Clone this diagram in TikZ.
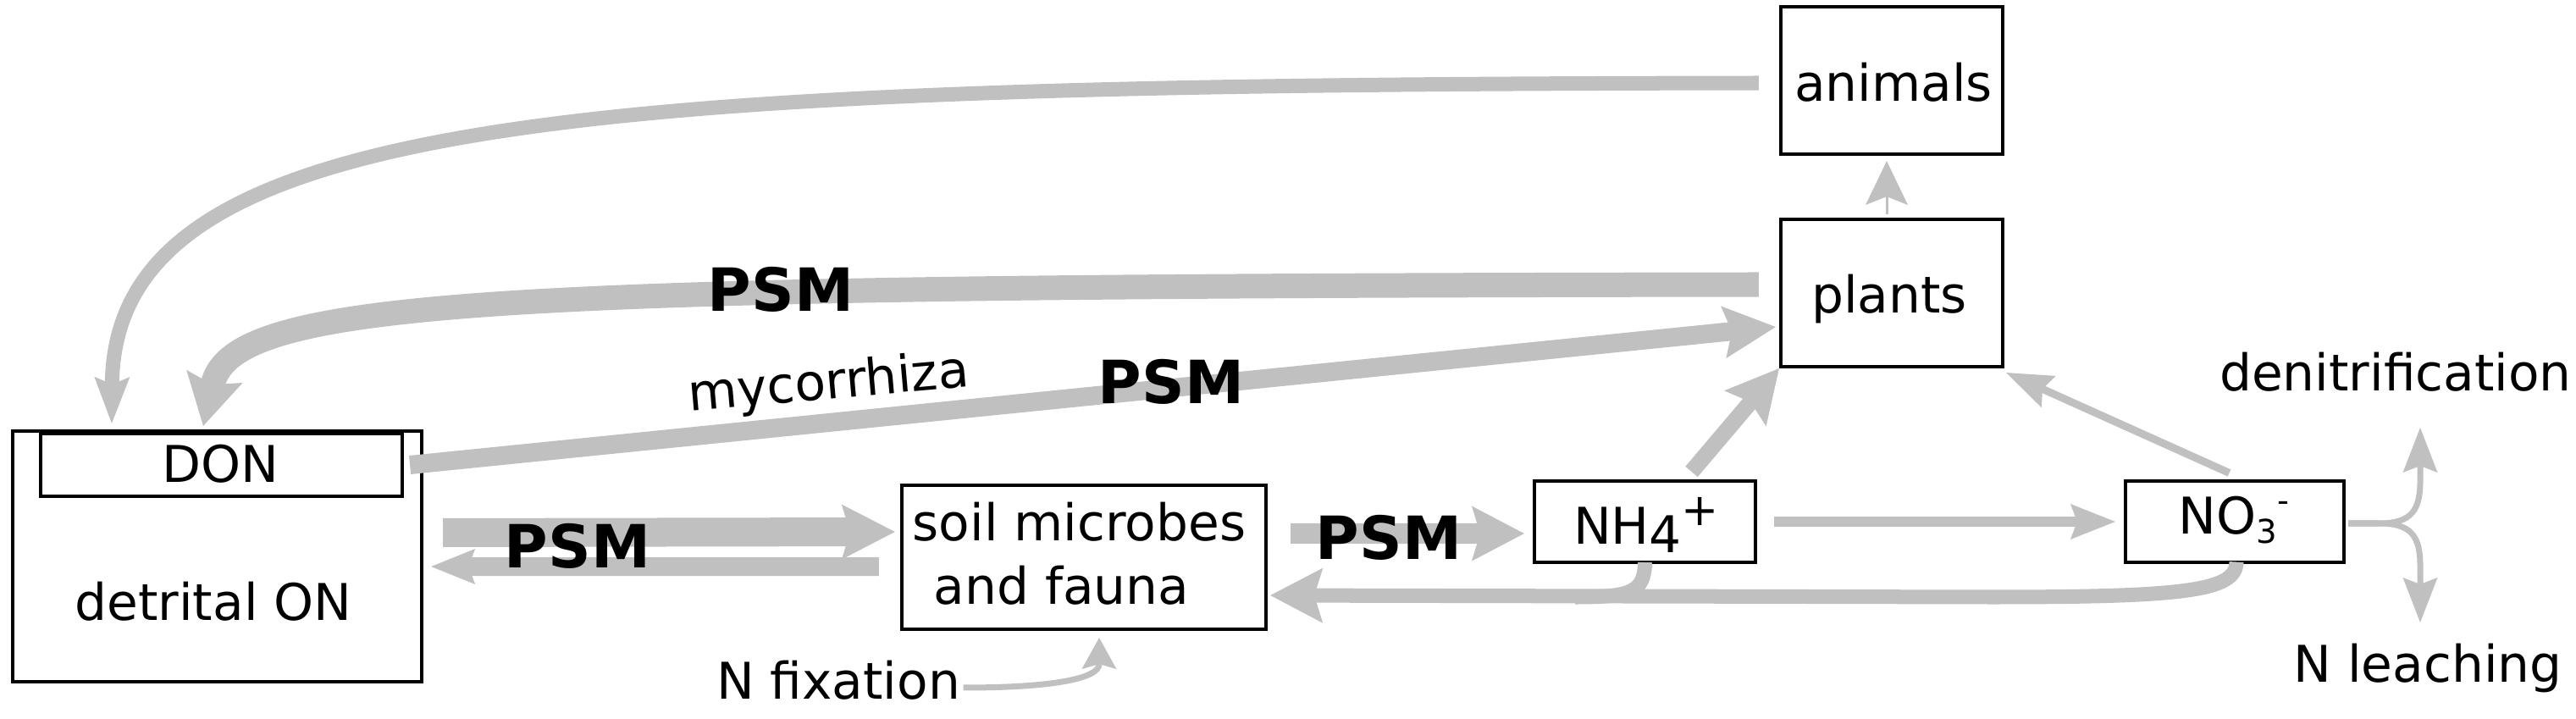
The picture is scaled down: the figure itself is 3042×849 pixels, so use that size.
\documentclass[tikz,border=0pt]{standalone}
\usepackage{fontspec}
\setmainfont{DejaVu Sans}
\usetikzlibrary{arrows.meta}
\definecolor{flowgray}{RGB}{192,192,192}
\begin{document}
\begin{tikzpicture}[x=0.01cm,y=-0.01cm,
  box/.style={draw=black,line width=0.04cm,inner sep=0pt,outer sep=0pt},
  txt/.style={inner sep=0pt,anchor=base,font=\fontsize{17}{20}\selectfont},
  psm/.style={inner sep=0pt,anchor=base,font=\fontsize{20}{24}\selectfont\bfseries},
  gline/.style={draw=flowgray,line width=#1},
  arr/.style n args={3}{arrows={-Stealth[length=#1,width=#2,inset=#3,line width=0pt]}},
]
\useasboundingbox (0,0) rectangle (3042,849);

% boxes
\node[box,minimum width=4.83cm,minimum height=2.96cm] (det) at (256.5,657) {};
\node[box,minimum width=4.27cm,minimum height=0.74cm] (don) at (261.5,549) {};
\node[box,minimum width=4.30cm,minimum height=1.70cm] (soil) at (1280,658) {};
\node[box,minimum width=2.61cm,minimum height=0.96cm] (nh4) at (1942.5,616) {};
\node[box,minimum width=2.58cm,minimum height=0.95cm] (no3) at (2639,616) {};
\node[box,minimum width=2.62cm,minimum height=1.74cm] (plants) at (2234,346) {};
\node[box,minimum width=2.62cm,minimum height=1.74cm] (animals) at (2234,95) {};

% texts
\node[txt] (animalsT) at (2236,120) {animals};
\node[txt] (plantsT) at (2231,370) {plants};
\node[txt] (donT) at (260,570) {DON};
\node[txt] (detT) at (252,732) {detrital ON};
\node[txt,anchor=base west] (soilT1) at (1077,638) {soil microbes};
\node[txt,anchor=base west] (soilT2) at (1102,713) {and fauna};
\node[txt] (nh4T) at (1944,642) {NH\raisebox{-0.18em}{4}\raisebox{0.36em}{\fontsize{15}{15}\selectfont +}};
\node[txt] (no3T) at (2638,630) {NO\raisebox{-0.2em}{\fontsize{11}{11}\selectfont 3}\raisebox{0.42em}{\fontsize{11}{11}\selectfont -}};
\node[txt] (denit) at (2829,462) {denitrification};
\node[txt] (leach) at (2867,805) {N leaching};
\node[txt] (nfix) at (990,825) {N fixation};
\node[txt,rotate=5] (myco) at (980,471) {mycorrhiza};

% connectors
% animals -> DON
\draw[gline=0.17cm,arr={0.55cm}{0.42cm}{0.09cm}]
  ([xshift=-0.26cm,yshift=-0.03cm]animals.west) .. controls (700,100) and (135,130) .. ([xshift=-1.295cm,yshift=0.12cm]don.north);
% plants -> DON (PSM)
\draw[gline=0.29cm,arr={0.60cm}{0.68cm}{0.1cm}]
  ([xshift=-0.26cm,yshift=0.10cm]plants.west) .. controls (600,338) and (275,350) .. ([xshift=-0.215cm,yshift=0.09cm]don.north);
% DON -> plants (mycorrhiza, PSM)
\draw[gline=0.22cm,arr={0.62cm}{0.62cm}{0.1cm}]
  ([xshift=0.09cm]don.east) -- ([xshift=-0.06cm,yshift=-0.40cm]plants.west);
% NH4 -> plants
\draw[gline=0.19cm,arr={0.62cm}{0.65cm}{0.1cm}]
  ([xshift=0.55cm,yshift=0.11cm]nh4.north) -- ([xshift=-0.02cm,yshift=-0.02cm]plants.south west);
% NO3 -> plants
\draw[gline=0.09cm,arr={0.55cm}{0.41cm}{0.08cm}]
  ([xshift=-0.065cm,yshift=0.10cm]no3.north) -- ([xshift=0.04cm,yshift=-0.07cm]plants.south east);
% NH4 -> NO3
\draw[gline=0.11cm,arr={0.53cm}{0.42cm}{0.08cm}]
  ([xshift=0.22cm]nh4.east) -- ([xshift=-0.12cm]no3.west);
% soil -> NH4 (PSM)
\draw[gline=0.24cm,arr={0.62cm}{0.65cm}{0.1cm}]
  ([xshift=0.29cm,yshift=0.28cm]soil.east) -- ([xshift=-0.12cm,yshift=-0.14cm]nh4.west);
% detrital -> soil (PSM)
\draw[gline=0.34cm,arr={0.63cm}{0.65cm}{0.1cm}]
  ([xshift=0.25cm,yshift=0.28cm]det.east) -- ([xshift=-0.08cm,yshift=0.30cm]soil.west);
% soil -> detrital
\draw[gline=0.22cm,arr={0.52cm}{0.42cm}{0.08cm}]
  ([xshift=-0.27cm,yshift=-0.11cm]soil.west) -- ([xshift=0.11cm,yshift=-0.12cm]det.east);
% NO3 / NH4 -> soil
\draw[gline=0.17cm,arr={0.62cm}{0.65cm}{0.1cm}]
  ([xshift=0.02cm]no3.south) .. controls (2641,698) and (2580,705) .. (2350,705) -- ([xshift=0.05cm,yshift=-0.45cm]soil.east);
\draw[gline=0.17cm]
  (nh4.south) .. controls (1942,700) and (1925,705) .. (1860,705);
% NO3 -> denitrification / leaching
\coordinate (denitEnd) at (2858,505);
\coordinate (leachEnd) at (2858,735);
\draw[gline=0.07cm,arr={0.53cm}{0.41cm}{0.08cm}]
  ([xshift=0.05cm,yshift=-0.02cm]no3.east) -- (2810,618) .. controls (2848,618) and (2858,602) .. (2858,568) -- (denitEnd);
\draw[gline=0.07cm,arr={0.53cm}{0.41cm}{0.08cm}]
  ([xshift=0.05cm,yshift=-0.02cm]no3.east) -- (2810,618) .. controls (2848,618) and (2858,634) .. (2858,668) -- (leachEnd);
% N fixation -> soil
\draw[gline=0.07cm,arr={0.37cm}{0.41cm}{0.06cm}]
  ([xshift=0.03cm,yshift=0.13cm]nfix.base east) .. controls (1250,812) and (1298,800) .. ([xshift=0.18cm,yshift=-0.10cm]soil.south);
% plants -> animals
\draw[gline=0.03cm,arr={0.52cm}{0.50cm}{0.1cm}]
  ([xshift=-0.06cm,yshift=0.06cm]plants.north) -- ([xshift=-0.06cm,yshift=-0.08cm]animals.south);

% PSM labels on top of the flows
\node[psm] (psmA) at (922,368) {PSM};
\node[psm] (psmB) at (1383,477) {PSM};
\node[psm] (psmC) at (682,670) {PSM};
\node[psm] (psmD) at (1640,660) {PSM};
\end{tikzpicture}
\end{document}
